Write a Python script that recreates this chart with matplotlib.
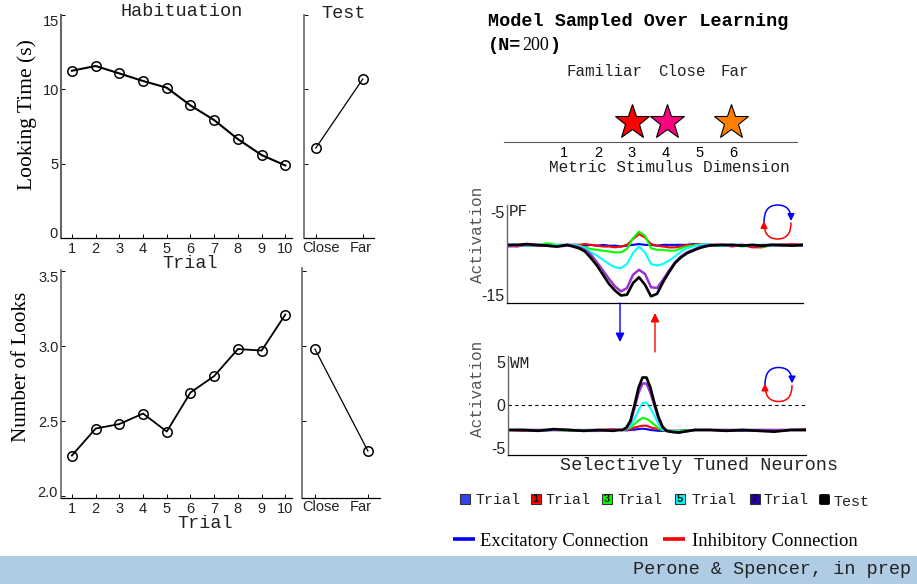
import matplotlib
matplotlib.use('Agg')
import matplotlib.pyplot as plt
from matplotlib.patches import FancyArrowPatch, Rectangle
from matplotlib.path import Path

W, H = 917, 584
MONO = 'Liberation Mono'
SERIF = 'Liberation Serif'
SANS = 'Liberation Sans'

# behavioural data
trials = [1, 2, 3, 4, 5, 6, 7, 8, 9, 10]
look_hab = [11.25, 11.57, 11.07, 10.56, 10.11, 8.92, 7.93, 6.65, 5.58, 4.88]
look_test = [6.05, 10.69]
num_hab = [2.27, 2.45, 2.48, 2.55, 2.43, 2.69, 2.80, 2.98, 2.97, 3.21]
num_test = [2.98, 2.30]
test_labels = ['Close', 'Far']

# stimulus dimension
metric_ticks = [1, 2, 3, 4, 5, 6]
star_pos = [3, 4.05, 5.95]
star_colors = ['#ff0000', '#ff0080', '#ff8000']

# PF field, activation per neuron
pf_x = [0, 10, 20, 30, 40, 50, 60,
        66, 72, 78, 84, 90, 96, 102, 108, 114, 120, 126, 132, 138, 144, 150, 156, 162, 168,
        174, 180, 186, 192, 198, 204, 215, 225, 235, 245, 255, 265, 275, 285, 295]
pf_blue = [-9.0, -9.0, -9.1, -9.0, -9.0, -9.1, -9.0,
           -9.0, -9.0, -9.1, -9.0, -9.1, -9.0, -9.1, -9.1, -9.2, -9.1, -9.0, -8.9, -9.0, -9.0, -9.1, -9.0, -9.0, -9.0,
           -9.0, -9.0, -8.9, -9.0, -9.0, -9.0, -9.1, -9.0, -9.0, -9.1, -9.0, -9.0, -9.1, -9.0, -9.0]
pf_red = [-9.1, -9.2, -9.0, -9.1, -9.1, -9.0, -9.0,
          -9.0, -9.0, -8.9, -9.0, -9.1, -9.2, -9.2, -9.3, -9.2, -9.0, -8.3, -7.7, -8.1, -8.9, -9.1, -9.2, -9.3, -9.3,
          -9.2, -9.0, -9.0, -8.9, -9.0, -9.1, -9.0, -9.2, -9.0, -9.3, -9.3, -9.0, -9.0, -8.9, -9.0]
pf_green = [-9.1, -9.0, -9.1, -9.1, -8.8, -9.0, -9.1,
            -9.0, -9.1, -9.3, -9.5, -9.6, -9.7, -9.8, -9.9, -9.9, -9.5, -8.2, -7.4, -7.9, -9.4, -9.6, -9.6, -9.7, -9.7,
            -9.4, -9.2, -9.1, -9.0, -9.0, -9.0, -9.1, -9.0, -9.2, -9.1, -9.2, -9.1, -9.0, -9.1, -9.0]
pf_cyan = [-9.1, -9.0, -9.1, -9.0, -9.1, -9.0, -9.0,
           -9.0, -9.1, -9.4, -9.9, -10.3, -10.8, -11.3, -11.7, -11.8, -11.3, -10.0, -9.2, -9.9, -11.3, -11.5, -11.3, -10.9, -10.4,
           -9.8, -9.4, -9.2, -9.0, -8.9, -9.0, -9.1, -9.0, -9.1, -9.0, -9.0, -9.1, -9.0, -9.1, -9.1]
pf_purple = [-9.2, -9.1, -9.0, -9.1, -9.1, -9.2, -9.1,
             -9.1, -9.3, -9.6, -10.2, -11.1, -12.1, -13.1, -14.0, -14.6, -14.2, -12.6, -12.0, -12.5, -14.1, -14.2, -13.2, -12.1, -11.1,
             -10.4, -9.9, -9.6, -9.3, -9.1, -9.0, -9.0, -9.1, -9.0, -9.1, -9.1, -9.0, -9.1, -9.0, -9.1]
pf_black = [-9.0, -9.0, -8.9, -9.0, -9.1, -9.2, -9.0,
            -9.2, -9.4, -9.8, -10.6, -11.5, -12.6, -13.7, -14.5, -15.1, -15.0, -13.6, -12.9, -13.8, -15.2, -14.9, -13.5, -12.3, -11.2,
            -10.5, -10.0, -9.7, -9.4, -9.2, -9.05, -9.0, -9.0, -9.1, -9.0, -9.1, -9.0, -9.0, -9.1, -9.0]

# WM field, activation per neuron
wm_x = [0, 15, 30, 45, 60, 75, 90, 105,
        110, 114, 118, 122, 126, 130, 134, 138, 142, 146, 150, 154, 158, 162,
        170, 186, 202, 218, 234, 250, 266, 282, 298]
wm_blue = [-2.9, -2.9, -3.0, -2.9, -2.9, -2.9, -2.9, -2.9,
           -2.9, -2.9, -2.95, -2.9, -2.85, -2.8, -2.75, -2.8, -2.9, -2.95, -3.0, -3.0, -3.0, -3.0,
           -3.0, -2.9, -2.9, -2.9, -3.0, -2.9, -3.0, -2.9, -2.9]
wm_red = [-2.9, -3.0, -2.9, -2.9, -2.9, -2.9, -2.9, -2.8,
          -2.9, -2.9, -2.9, -2.8, -2.6, -2.5, -2.4, -2.4, -2.6, -2.7, -2.8, -2.9, -3.0, -3.0,
          -3.0, -2.9, -2.9, -3.0, -2.9, -2.9, -2.9, -2.9, -2.8]
wm_green = [-2.9, -2.9, -2.9, -2.9, -3.0, -2.9, -2.9, -2.9,
            -2.9, -2.9, -2.8, -2.6, -2.2, -1.8, -1.5, -1.6, -1.9, -2.3, -2.7, -2.9, -3.0, -3.0,
            -3.0, -2.9, -2.9, -2.9, -2.9, -3.0, -3.0, -2.9, -2.9]
wm_cyan = [-2.9, -2.9, -3.0, -2.9, -2.9, -2.9, -2.9, -2.9,
           -2.9, -2.9, -2.8, -2.4, -1.6, -0.6, 0.2, 0.3, -0.4, -1.3, -2.2, -2.8, -3.0, -3.0,
           -3.1, -2.9, -2.9, -2.9, -2.9, -2.9, -2.9, -2.9, -2.9]
wm_purple = [-2.9, -2.9, -2.9, -2.9, -2.9, -3.0, -3.0, -2.9,
             -2.9, -2.9, -2.7, -2.0, -0.4, 1.4, 2.5, 2.5, 1.4, -0.1, -1.6, -2.6, -3.0, -3.1,
             -3.2, -2.9, -2.9, -2.9, -2.9, -2.9, -2.9, -2.9, -2.9]
wm_black = [-2.9, -2.9, -3.0, -2.8, -2.9, -3.0, -2.9, -3.0,
            -2.9, -2.9, -2.6, -1.8, 0.0, 2.0, 3.2, 3.2, 2.0, 0.2, -1.4, -2.5, -3.0, -3.1,
            -3.2, -2.9, -2.9, -3.0, -2.9, -3.0, -3.1, -2.9, -2.9]

curve_colors = ['#0000ff', '#ff0000', '#00ff00', '#00ffff', '#9933cc', '#000000']
curve_widths = [1.5, 1.5, 1.5, 1.5, 1.8, 1.9]

# legend
legend_labels = ['Trial', 'Trial', 'Trial', 'Trial', 'Trial', 'Test']
legend_nums = ['', '1', '3', '5', '7', '']
legend_colors = ['#3344ee', '#ff0000', '#00ff00', '#00ffff', '#2200aa', '#000000']


def px_axes(left, top, right, bottom):
    return fig.add_axes([left / W, 1 - bottom / H, (right - left) / W, (bottom - top) / H])


def style_axes(ax, lw=1.5):
    ax.patch.set_alpha(0)
    ax.spines['top'].set_visible(False)
    ax.spines['right'].set_visible(False)
    ax.spines['left'].set_color('#666666')
    ax.spines['left'].set_linewidth(lw)
    ax.spines['bottom'].set_linewidth(0.9)
    ax.tick_params(direction='in', length=3, width=0.7, labelsize=10.5, pad=3)
    ax.tick_params(axis='y', pad=1.5)
    for lab in ax.get_xticklabels() + ax.get_yticklabels():
        lab.set_family(SANS)
        lab.set_color('#222222')


fig = plt.figure(figsize=(W / 100, H / 100), dpi=100)

# top left
ax1 = px_axes(61, 15, 291.5, 238)
ax1.plot(trials, look_hab, '-o', color='k', lw=1.5, ms=6.8, mfc='none', mew=1.1)
ax1.set_xlim(0.54, 10.26)
ax1.set_ylim(0, 15)
ax1.set_xticks(trials)
ax1.set_yticks([0, 5, 10, 15])
ax1.set_yticklabels(['', '5', '10', '15'])
style_axes(ax1)
ax1.get_yticklabels()[-1].set_va('top')

ax2 = px_axes(304, 15, 374, 238)
ax2.plot([0, 1], look_test, '-o', color='k', lw=0.9, ms=6.8, mfc='none', mew=1.1)
ax2.set_xlim(-0.25, 1.24)
ax2.set_ylim(0, 15)
ax2.set_xticks([0, 1])
ax2.set_xticklabels([])
ax2.set_yticks([5, 10, 15])
ax2.set_yticklabels([])
style_axes(ax2, lw=1.2)

# bottom left
ax3 = px_axes(61, 270, 291.5, 498)
ax3.plot(trials, num_hab, '-o', color='k', lw=1.3, ms=6.8, mfc='none', mew=1.1)
ax3.set_xlim(0.54, 10.26)
ax3.set_ylim(1.987, 3.507)
ax3.set_xticks(trials)
ax3.set_yticks([2.0, 2.5, 3.0, 3.5])
ax3.set_yticklabels(['', '2.5', '3.0', '3.5'])
style_axes(ax3, lw=1.2)
ax3.get_yticklabels()[-1].set_va('top')

ax4 = px_axes(301.7, 268, 380, 498)
ax4.plot([0, 1], num_test, '-o', color='k', lw=0.9, ms=6.8, mfc='none', mew=1.1)
ax4.set_xlim(-0.25, 1.228)
ax4.set_ylim(1.987, 3.52)
ax4.set_xticks([0, 1])
ax4.set_xticklabels([])
ax4.set_yticks([2.5, 3.0, 3.5])
ax4.set_yticklabels([])
style_axes(ax4, lw=1.2)

# stimulus axis with the stars
ax5 = px_axes(504, 100, 797, 142)
for p, c in zip(star_pos, star_colors):
    ax5.plot([p], [0.48], ls='none', marker='*', ms=26, mfc=c, mec='k', mew=0.8, zorder=4)
ax5.set_xlim(-0.775, 7.89)
ax5.set_ylim(0, 1)
ax5.set_xticks(metric_ticks)
ax5.set_yticks([])
ax5.patch.set_alpha(0)
for s in ['top', 'left', 'right']:
    ax5.spines[s].set_visible(False)
ax5.spines['bottom'].set_color('#555555')
ax5.tick_params(length=0, labelsize=10.5, pad=3)
for lab in ax5.get_xticklabels():
    lab.set_family(SANS)

# PF field
ax6 = px_axes(507, 205, 803, 303)
pf_series = [pf_blue, pf_red, pf_green, pf_cyan, pf_purple, pf_black]
for ys, c, w in zip(pf_series, curve_colors, curve_widths):
    ax6.plot(pf_x, ys, color=c, lw=w)
ax6.set_xlim(0, 296)
ax6.set_ylim(-16, -4.2)
ax6.set_xticks([])
ax6.set_yticks([-15, -5])
ax6.set_yticklabels(['-15', '-5'])
style_axes(ax6, lw=1)
ax6.tick_params(length=0, labelsize=11.5, pad=2)
for lab in ax6.get_yticklabels():
    lab.set_family(SANS)

# WM field
ax7 = px_axes(508.5, 356, 806, 454.5)
wm_series = [wm_blue, wm_red, wm_green, wm_cyan, wm_purple, wm_black]
for ys, c, w in zip(wm_series, curve_colors, curve_widths):
    ax7.plot(wm_x, ys, color=c, lw=w)
ax7.axhline(0, color='k', lw=0.8, ls=(0, (3, 3)))
ax7.set_xlim(0, 297.5)
ax7.set_ylim(-5.75, 5.7)
ax7.set_xticks([])
ax7.set_yticks([-5, 0, 5])
ax7.set_yticklabels(['-5', '0', '5'])
style_axes(ax7, lw=1)
ax7.tick_params(length=0, labelsize=11.5, pad=2)
for lab in ax7.get_yticklabels():
    lab.set_family(SANS)

# everything else goes on a pixel overlay
ov = fig.add_axes([0, 0, 1, 1], zorder=10)
ov.set_xlim(0, W)
ov.set_ylim(H, 0)
ov.axis('off')
ov.patch.set_alpha(0)


def txt(x, y, s, fam=MONO, size=13.3, **kw):
    kw.setdefault('va', 'center')
    kw.setdefault('color', '#222222')
    ov.text(x, y, s, family=fam, fontsize=size, **kw)


txt(121, 12, 'Habituation')
txt(321, 13, 'Test')
txt(162, 264, 'Trial')
txt(177, 523, 'Trial')
txt(27, 115, 'Looking Time (s)', fam=SERIF, size=15.5, rotation=90, ha='center', color='k')
txt(22, 367, 'Number of Looks', fam=SERIF, size=15.2, rotation=90, ha='center', color='k')

# these tick labels sit off their ticks in the original
txt(58, 233.5, '0', fam=SANS, size=10.5, ha='right')
txt(58, 493, '2.0', fam=SANS, size=10.5, ha='right')
txt(302, 247.5, test_labels[0], fam=SANS, size=10.5)
txt(350, 247.5, test_labels[1], fam=SANS, size=10.5)
txt(302, 507, test_labels[0], fam=SANS, size=10.5)
txt(350, 507, test_labels[1], fam=SANS, size=10.5)

txt(488, 22, 'Model Sampled Over Learning', fontweight='bold', color='k')
txt(488, 45, '(N=', fontweight='bold', color='k')
txt(522, 45, '200', fam=SERIF, size=13, color='k')
txt(549, 45, ')', fontweight='bold', color='k')
txt(567, 71, 'Familiar', size=11.4)
txt(658, 71, 'Close', size=11.4)
txt(720, 71, 'Far', size=11.4)
txt(549, 168, 'Metric Stimulus Dimension', size=11.6)
txt(478, 235, 'Activation', size=11.5, rotation=90, ha='center', color='#555555')
txt(478, 389, 'Activation', size=11.5, rotation=90, ha='center', color='#555555')
txt(509, 212, 'PF', size=11.5)
txt(510, 364, 'WM', size=11.5)
txt(560, 465, 'Selectively Tuned Neurons')

# connections between the fields
ov.add_patch(FancyArrowPatch((620, 303), (620, 342), color='#0000ff', arrowstyle='-|>', mutation_scale=13, lw=1, shrinkA=0, shrinkB=0))
ov.add_patch(FancyArrowPatch((655, 352), (655, 313), color='#ff0000', arrowstyle='-|>', mutation_scale=13, lw=1, shrinkA=0, shrinkB=0))

# little circular arrows
curve = [Path.MOVETO, Path.CURVE3, Path.CURVE3, Path.CURVE3, Path.CURVE3]
rx, ry = 13.5, 17
for cx, cy in [(777.5, 222), (778.5, 384.5)]:
    top = Path([(cx - rx, cy), (cx - rx, cy - ry), (cx, cy - ry), (cx + rx, cy - ry), (cx + rx, cy - 1)], curve)
    bot = Path([(cx + rx, cy + 1), (cx + rx, cy + ry), (cx, cy + ry), (cx - rx, cy + ry), (cx - rx, cy - 1)], curve)
    ov.add_patch(FancyArrowPatch(path=top, color='#0000ff', arrowstyle='-|>', mutation_scale=10, lw=1.1, shrinkA=0, shrinkB=0))
    ov.add_patch(FancyArrowPatch(path=bot, color='#ff0000', arrowstyle='-|>', mutation_scale=10, lw=1.1, shrinkA=0, shrinkB=0))

# trial legend
box_x = [460, 531, 602, 675, 750, 819]
label_x = [475, 546, 617, 692, 764, 833]
for i in range(6):
    if i == 5:
        ov.add_patch(Rectangle((box_x[i] + 1, 495), 8, 8, fc=legend_colors[i], ec='k', lw=2, joinstyle='round'))
    else:
        ov.add_patch(Rectangle((box_x[i], 494), 9.5, 9.5, fc=legend_colors[i], ec='#333333', lw=0.8))
    if legend_nums[i]:
        ov.text(box_x[i] + 4.8, 499, legend_nums[i], family=SANS, fontsize=8, fontweight='bold', ha='center', va='center', color='#111111')
    txt(label_x[i], 502 if i == 5 else 500, legend_labels[i], size=10.8)

# connection legend
ov.plot([453, 475], [539, 539], color='#0000ff', lw=2.6, solid_capstyle='butt')
txt(480, 541, 'Excitatory Connection', fam=SERIF, size=13.4, color='k')
ov.plot([663, 685], [539, 539], color='#ff0000', lw=2.6, solid_capstyle='butt')
txt(692, 541, 'Inhibitory Connection', fam=SERIF, size=13.4, color='k')

# citation band
ov.add_patch(Rectangle((0, 556), W, 28, fc='#b0cbe4', ec='none'))
txt(633, 569, 'Perone & Spencer, in prep')

fig.savefig('out.png', dpi=100)
